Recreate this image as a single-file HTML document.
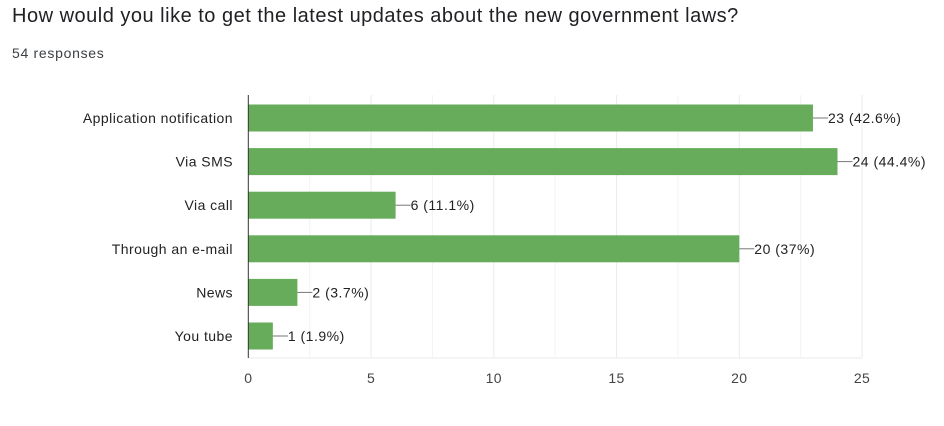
<!DOCTYPE html>
<html><head><meta charset="utf-8"><style>
body{margin:0;background:#fff;width:944px;height:426px;overflow:hidden;font-family:"Liberation Sans",Arial,sans-serif}
#title{position:absolute;left:12px;top:5px;font-size:20px;letter-spacing:0.5px;color:#202124}
#sub{position:absolute;left:12px;top:45px;font-size:14px;letter-spacing:0.7px;color:#3c4043}
</style></head><body>
<div id="title">How would you like to get the latest updates about the new government laws?</div>
<div id="sub">54 responses</div>
<svg id="chart" width="944" height="426" style="position:absolute;left:0;top:0" font-family="Liberation Sans, Arial, sans-serif"></svg>
<script>
const categories=["Application notification","Via SMS","Via call","Through an e-mail","News","You tube"];
const values=[23,24,6,20,2,1];
const valueLabels=["23 (42.6%)","24 (44.4%)","6 (11.1%)","20 (37%)","2 (3.7%)","1 (1.9%)"];
const ticks=[0,5,10,15,20,25];
const minorTicks=[2.5,7.5,12.5,17.5,22.5];
const svg=document.getElementById('chart');
const NS='http://www.w3.org/2000/svg';
const x0=248.3,xs=24.55,plotTop=95,plotBot=358,step=43.6,bh=27,c0=118;
const X=v=>x0+v*xs, Y=i=>c0+i*step;
function mk(t,a){const e=document.createElementNS(NS,t);for(const k in a)e.setAttribute(k,a[k]);svg.appendChild(e);return e;}
minorTicks.concat(ticks.slice(1)).forEach(t=>{const l=mk('line',{x1:X(t),x2:X(t),y1:plotTop,y2:plotBot,stroke:t%5?'#f3f3f3':'#ebebeb','stroke-width':1});

});
const bl=mk('line',{x1:X(0),x2:X(25),y1:plotBot,y2:plotBot,stroke:'#ebebeb'});


ticks.forEach(t=>{const e=mk('text',{x:X(t),y:383,'font-size':14,'letter-spacing':0.4,fill:'#444','text-anchor':'middle'});e.textContent=t;

});
categories.forEach((c,i)=>{
const y=Y(i);
const lab=mk('text',{x:233,y:y+5,'font-size':14,'letter-spacing':0.45,fill:'#222','text-anchor':'end'});lab.textContent=c;


const r=mk('rect',{x:X(0),y:y-bh/2,width:values[i]*xs,height:bh,fill:'#67ac5b'});


const ln=mk('line',{x1:X(values[i]),x2:X(values[i])+15,y1:y,y2:y,stroke:'#777','stroke-width':1});


const v=mk('text',{x:X(values[i])+15,y:y+5,'font-size':14,'letter-spacing':0.5,fill:'#222'});v.textContent=valueLabels[i];


});
const ax=mk('line',{x1:X(0),x2:X(0),y1:plotTop,y2:plotBot,stroke:'#333','stroke-width':1});


</script>
</body></html>
